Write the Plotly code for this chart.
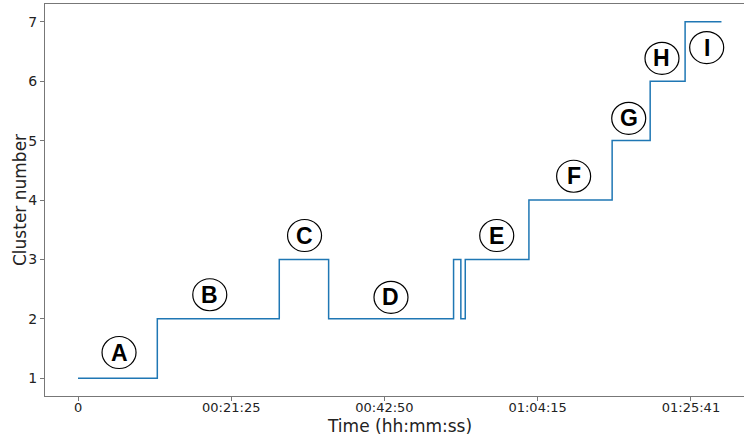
import plotly.graph_objects as go

# Step data (seconds, cluster id)
times = [0, 665, 1688, 2102, 3150, 3211, 3248, 3782, 4480, 4799, 5092, 5397]
clusters = [1, 2, 3, 2, 3, 2, 3, 4, 5, 6, 7, 7]

# X tick values (seconds) and labels
tick_vals = [0, 1285, 2570, 3855, 5141]
tick_text = ["0", "00:21:25", "00:42:50", "01:04:15", "01:25:41"]
y_ticks = [1, 2, 3, 4, 5, 6, 7]

# Circled labels
label_text = ["A", "B", "C", "D", "E", "F", "G", "H", "I"]
label_t = [344, 1105, 1900, 2625, 3512, 4157, 4619, 4898, 5273]
label_y = [1.432, 2.405, 3.402, 2.362, 3.402, 4.40, 5.375, 6.385, 6.567]

W, H = 744, 438
ML, MR, MT, MB = 45, 0, 4, 42
PW, PH = W - ML - MR, H - MT - MB

fig = go.Figure()
fig.add_trace(go.Scatter(
    x=times, y=clusters, mode="lines",
    line=dict(shape="hv", color="#1f77b4", width=1.5),
    showlegend=False, hoverinfo="skip",
))

shapes = []
annotations = []
for txt, tx, ty in zip(label_text, label_t, label_y):
    shapes.append(dict(
        type="circle", xref="x", yref="y",
        xsizemode="pixel", ysizemode="pixel",
        xanchor=tx, yanchor=ty,
        x0=-17, x1=17, y0=-16, y1=16,
        line=dict(color="black", width=1.2),
        fillcolor="rgba(255,255,255,0)",
    ))
    annotations.append(dict(
        x=tx, y=ty, xref="x", yref="y", text="<b>%s</b>" % txt,
        showarrow=False,
        font=dict(family="Liberation Sans, Arial, sans-serif", size=23, color="black"),
        xanchor="center", yanchor="middle",
    ))

# axis titles as annotations (pixel-placed via paper coords)
annotations.append(dict(
    text="Time (hh:mm:ss)", xref="paper", yref="paper",
    x=(399 - ML) / PW, y=-(426 - (MT + PH)) / PH,
    xanchor="center", yanchor="middle", showarrow=False,
    font=dict(size=17, family="DejaVu Sans", color="#222222"),
))
annotations.append(dict(
    text="Cluster number", xref="paper", yref="paper",
    x=(20 - ML) / PW, y=(MT + PH - 200) / PH,
    xanchor="center", yanchor="middle", showarrow=False, textangle=-90,
    font=dict(size=17, family="DejaVu Sans", color="#222222"),
))

fig.update_layout(
    width=W, height=H,
    margin=dict(l=ML, r=MR, t=MT, b=MB, autoexpand=False),
    plot_bgcolor="white", paper_bgcolor="white",
    shapes=shapes, annotations=annotations,
    font=dict(family="DejaVu Sans, sans-serif", color="#222222"),
)

fig.update_xaxes(
    range=[-277, 5586], automargin=False,
    tickvals=tick_vals, ticktext=tick_text,
    tickfont=dict(size=13, family="DejaVu Sans", color="#222222"),
    ticks="outside", ticklen=4, tickcolor="#777777", ticklabelstandoff=-5,
    showline=True, linecolor="#777777", linewidth=1, mirror=True,
    showgrid=False, zeroline=False,
)
fig.update_yaxes(
    range=[0.7, 7.3], automargin=False,
    tickvals=y_ticks,
    tickfont=dict(size=14, family="DejaVu Sans", color="#222222"),
    ticks="outside", ticklen=4, tickcolor="#777777",
    showline=True, linecolor="#777777", linewidth=1, mirror=False,
    showgrid=False, zeroline=False,
)

fig.write_html(
    "out.html",
    config={"displayModeBar": False},
    post_script="document.body.style.margin='0';document.body.style.overflow='hidden';",
)
